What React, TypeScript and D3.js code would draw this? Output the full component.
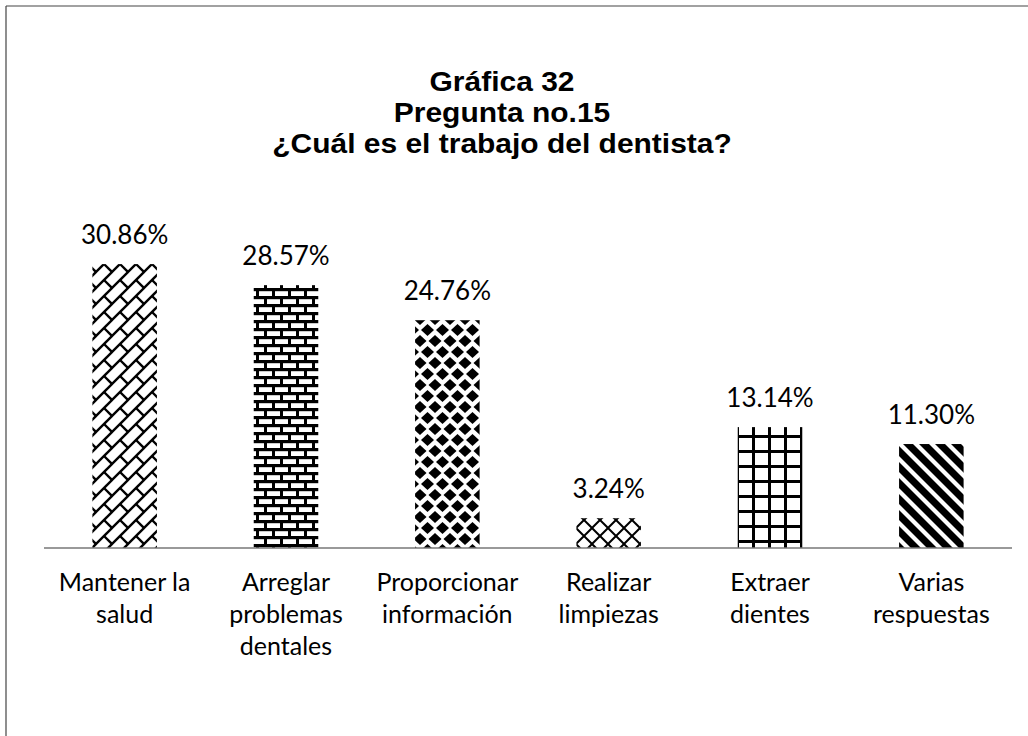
import React from "react";
import * as d3 from "d3";

const titleLines = ["Gráfica 32", "Pregunta no.15", "¿Cuál es el trabajo del dentista?"];
const categories = [
  "Mantener la\nsalud",
  "Arreglar\nproblemas\ndentales",
  "Proporcionar\ninformación",
  "Realizar\nlimpiezas",
  "Extraer\ndientes",
  "Varias\nrespuestas",
];
const values = [30.86, 28.57, 24.76, 3.24, 13.14, 11.3];
const patternIds = ["pDiagBrick", "pHBrick", "pDiamond", "pCross", "pGrid", "pStripe"];

const W = 1028;
const H = 736;
const baseY = 548;

export default function App() {
  const x = d3
    .scaleBand<string>()
    .domain(categories)
    .range([44, 1012])
    .paddingInner(0.6)
    .paddingOuter(0.3);
  const y = d3.scaleLinear().domain([0, 35]).range([baseY, baseY - 322]);
  const fmt = (v: number) => v.toFixed(2) + "%";
  const sans = "Lato, 'Open Sans', sans-serif";

  return (
    <svg
      width={W}
      height={H}
      style={{ position: "absolute", left: 0, top: 0, background: "#fff" }}
    >
      <defs>
        <pattern id="pDiagBrick" patternUnits="userSpaceOnUse" width={16} height={16}>
          <rect width={16} height={16} fill="#fff" />
          <line x1={-2} y1={18} x2={18} y2={-2} stroke="#000" strokeWidth={2.4} />
          <line x1={-2} y1={2} x2={2} y2={-2} stroke="#000" strokeWidth={2.4} />
          <line x1={14} y1={18} x2={18} y2={14} stroke="#000" strokeWidth={2.4} />
          <line x1={8} y1={8} x2={16} y2={16} stroke="#000" strokeWidth={2.4} />
        </pattern>
        <pattern id="pHBrick" patternUnits="userSpaceOnUse" width={16} height={16}>
          <rect width={16} height={16} fill="#fff" />
          <rect x={0} y={0} width={16} height={3.2} fill="#000" />
          <rect x={0} y={8} width={16} height={3.2} fill="#000" />
          <rect x={0} y={0} width={3} height={8} fill="#000" />
          <rect x={8} y={8} width={3} height={8} fill="#000" />
        </pattern>
        <pattern id="pDiamond" patternUnits="userSpaceOnUse" width={15} height={22}>
          <rect width={15} height={22} fill="#fff" />
          <path d="M7.5,-6 L14,0 L7.5,6 L1,0 Z" fill="#000" />
          <path d="M7.5,16 L14,22 L7.5,28 L1,22 Z" fill="#000" />
          <path d="M0,5 L6.5,11 L0,17 L-6.5,11 Z" fill="#000" />
          <path d="M15,5 L21.5,11 L15,17 L8.5,11 Z" fill="#000" />
        </pattern>
        <pattern id="pCross" patternUnits="userSpaceOnUse" width={16} height={16}>
          <rect width={16} height={16} fill="#fff" />
          <line x1={-2} y1={-2} x2={18} y2={18} stroke="#000" strokeWidth={2} />
          <line x1={-2} y1={18} x2={18} y2={-2} stroke="#000" strokeWidth={2} />
        </pattern>
        <pattern id="pGrid" patternUnits="userSpaceOnUse" width={16} height={15}>
          <rect width={16} height={15} fill="#fff" />
          <rect x={0} y={0} width={3} height={15} fill="#000" />
          <rect x={0} y={0} width={16} height={3} fill="#000" />
        </pattern>
        <pattern id="pStripe" patternUnits="userSpaceOnUse" width={16} height={16}>
          <rect width={16} height={16} fill="#fff" />
          <path d="M0,0 L5,0 L16,11 L16,16 L11,16 L0,5 Z" fill="#000" />
          <path d="M11,0 L16,0 L16,5 Z" fill="#000" />
          <path d="M0,11 L5,16 L0,16 Z" fill="#000" />
        </pattern>
      </defs>

      {/* frame (only top and left edges visible) */}
      <line x1={6} y1={6} x2={W} y2={6} stroke="#444" strokeWidth={1.2} />
      <line x1={6} y1={6} x2={6} y2={H} stroke="#444" strokeWidth={1.2} />

      {titleLines.map((t, i) => (
        <text
          key={i}
          transform={`translate(502,${91 + i * 31}) scale(1.11,1)`}
          textAnchor="middle"
          fontFamily="'Liberation Sans', Arial, sans-serif"
          fontWeight="bold"
          fontSize={27}
          fill="#000"
        >
          {t}
        </text>
      ))}

      {categories.map((c, i) => {
        const bx = x(c)!;
        const bw = x.bandwidth();
        const top = y(values[i]);
        return (
          <g key={c}>
            <rect
              x={bx}
              y={top}
              width={bw}
              height={baseY - top}
              fill={`url(#${patternIds[i]})`}
            />
            <text
              x={bx + bw / 2}
              y={top - 20}
              textAnchor="middle"
              fontFamily={sans}
              fontSize={26}
              fill="#000"
            >
              {fmt(values[i])}
            </text>
            {c.split("\n").map((ln, j) => (
              <text
                key={j}
                x={bx + bw / 2}
                y={591 + j * 32}
                textAnchor="middle"
                fontFamily={sans}
                fontSize={25}
                fill="#000"
              >
                {ln}
              </text>
            ))}
          </g>
        );
      })}

      <line x1={44} y1={baseY} x2={1012} y2={baseY} stroke="#777" strokeWidth={1.3} />
    </svg>
  );
}
